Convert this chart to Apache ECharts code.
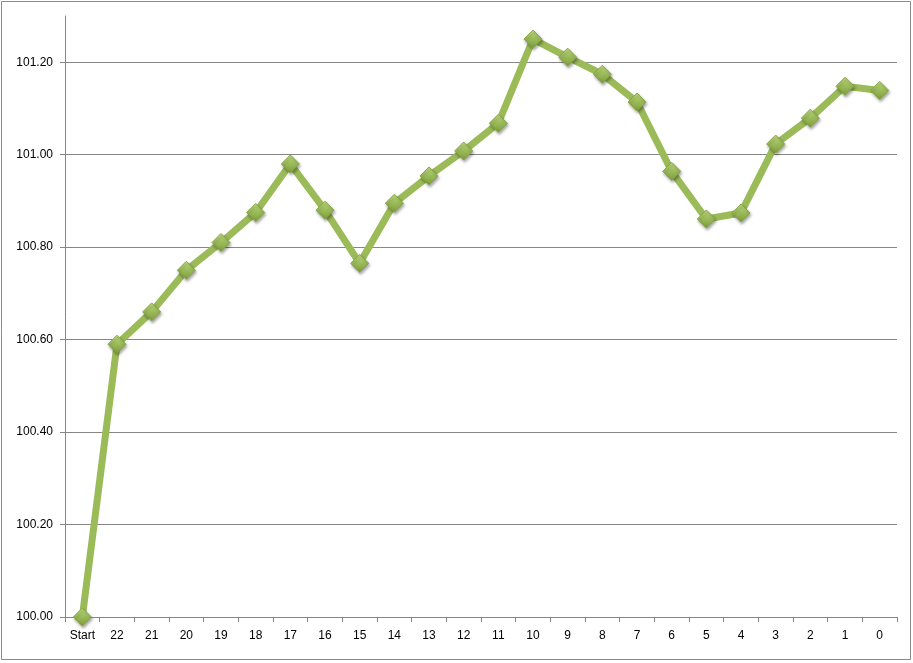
<!DOCTYPE html>
<html>
<head>
<meta charset="utf-8">
<script src="https://cdn.jsdelivr.net/npm/echarts@6/dist/echarts.min.js"></script>
<style>
    html, body { margin: 0; padding: 0; background: #fff; }
    #chart { width: 913px; height: 663px; }
</style>
</head>
<body>
<div id="chart"></div>
<script>
// categories along the x axis
const categories = ['Start', '22', '21', '20', '19', '18', '17', '16', '15', '14', '13', '12',
    '11', '10', '9', '8', '7', '6', '5', '4', '3', '2', '1', '0']
// values
const values = [100.00, 100.59, 100.66, 100.75, 100.81, 100.875, 100.98, 100.88, 100.765,
    100.895, 100.954, 101.008, 101.068, 101.25, 101.211, 101.174, 101.114, 100.964,
    100.861, 100.874, 101.023, 101.079, 101.148, 101.139]

const chart = echarts.init(document.getElementById('chart'))
const axisColor = '#868686'
const font = 'Liberation Sans, Arial, sans-serif'

chart.setOption({
    backgroundColor: '#fff',
    animation: false,
    graphic: [{
        type: 'rect',
        shape: { x: 1.5, y: 1.5, width: 909, height: 658 },
        style: { fill: 'none', stroke: '#8a8a8a', lineWidth: 1 }
    }],
    grid: { left: 65, right: 16, top: 16, bottom: 46 },
    xAxis: {
        type: 'category',
        data: categories,
        boundaryGap: true,
        axisLine: { lineStyle: { color: axisColor } },
        axisTick: { show: true, length: 5, lineStyle: { color: axisColor } },
        axisLabel: { color: '#000', fontSize: 12, fontFamily: font, margin: 13 }
    },
    yAxis: {
        type: 'value',
        min: 100,
        max: 101.3,
        interval: 0.2,
        axisLine: { show: true, lineStyle: { color: axisColor } },
        axisTick: { show: true, length: 5, lineStyle: { color: axisColor } },
        axisLabel: {
            color: '#000', fontSize: 12, fontFamily: font, margin: 12,
            showMaxLabel: false,
            formatter: v => v.toFixed(2)
        },
        splitLine: { show: true, showMinLine: false, showMaxLine: false, lineStyle: { color: axisColor } }
    },
    series: [{
        type: 'line',
        data: values,
        lineStyle: { color: '#9bbb59', width: 7 },
        symbol: 'diamond',
        symbolSize: 18,
        itemStyle: {
            color: new echarts.graphic.LinearGradient(0, 0, 0, 1, [
                { offset: 0, color: '#c3df85' },
                { offset: 0.5, color: '#9bbb59' },
                { offset: 1, color: '#7d9c3c' }
            ]),
            borderColor: '#86a544',
            borderWidth: 1,
            shadowColor: 'rgba(0,0,0,0.35)',
            shadowBlur: 3,
            shadowOffsetX: 1,
            shadowOffsetY: 2
        }
    }]
})
</script>
</body>
</html>
